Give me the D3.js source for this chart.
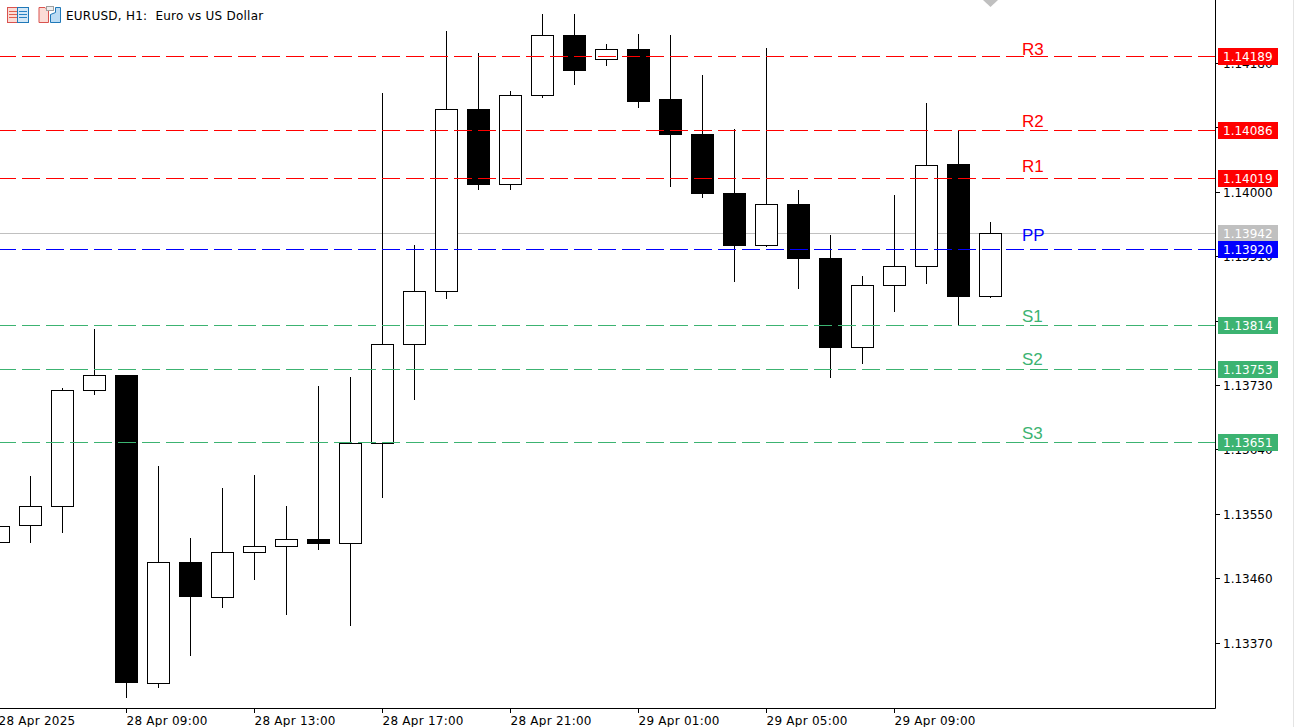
<!DOCTYPE html>
<html>
<head>
<meta charset="utf-8">
<title>EURUSD, H1</title>
<script src="https://cdnjs.cloudflare.com/ajax/libs/d3/7.8.5/d3.min.js"></script>
<style>
  html, body { margin: 0; padding: 0; background: #fff; overflow: hidden; }
  svg { display: block; }
  text { font-family: "DejaVu Sans", sans-serif; font-size: 12px; fill: #000; }
</style>
</head>
<body>
<div id="chart"></div>
<script>
const title = "EURUSD, H1:  Euro vs US Dollar";

const times = [
  "28 Apr 05:00", "28 Apr 06:00", "28 Apr 07:00", "28 Apr 08:00", "28 Apr 09:00", "28 Apr 10:00", "28 Apr 11:00",
  "28 Apr 12:00", "28 Apr 13:00", "28 Apr 14:00", "28 Apr 15:00", "28 Apr 16:00", "28 Apr 17:00", "28 Apr 18:00",
  "28 Apr 19:00", "28 Apr 20:00", "28 Apr 21:00", "28 Apr 22:00", "28 Apr 23:00", "29 Apr 00:00", "29 Apr 01:00",
  "29 Apr 02:00", "29 Apr 03:00", "29 Apr 04:00", "29 Apr 05:00", "29 Apr 06:00", "29 Apr 07:00", "29 Apr 08:00",
  "29 Apr 09:00", "29 Apr 10:00", "29 Apr 11:00", "29 Apr 12:00"
];
const opens = [
  1.13511, 1.13534, 1.13561, 1.13723, 1.13744, 1.13314, 1.13483, 1.13434, 1.13497, 1.13505, 1.13515,
  1.13509, 1.13649, 1.13787, 1.13861, 1.14116, 1.14011, 1.14135, 1.14219, 1.14185, 1.14199, 1.14130,
  1.14081, 1.13998, 1.13926, 1.13983, 1.13907, 1.13783, 1.13870, 1.13896, 1.14039, 1.13854
];
const highs = [
  1.13533, 1.13603, 1.13726, 1.13808, 1.13744, 1.13617, 1.13516, 1.13586, 1.13604, 1.13561, 1.13729,
  1.13741, 1.14138, 1.13926, 1.14225, 1.14194, 1.14141, 1.14248, 1.14248, 1.14206, 1.14220, 1.14219,
  1.14163, 1.14088, 1.14201, 1.14002, 1.13940, 1.13882, 1.13995, 1.14124, 1.14086, 1.13958
];
const lows = [
  1.13511, 1.13509, 1.13523, 1.13716, 1.13293, 1.13307, 1.13351, 1.13419, 1.13458, 1.13409, 1.13500,
  1.13393, 1.13572, 1.13709, 1.13850, 1.14002, 1.14002, 1.14131, 1.14149, 1.14176, 1.14117, 1.14007,
  1.13991, 1.13874, 1.13923, 1.13864, 1.13740, 1.13759, 1.13832, 1.13871, 1.13814, 1.13852
];
const closes = [
  1.13533, 1.13561, 1.13723, 1.13744, 1.13315, 1.13483, 1.13435, 1.13497, 1.13505, 1.13515, 1.13509,
  1.13649, 1.13787, 1.13861, 1.14116, 1.14011, 1.14135, 1.14219, 1.14170, 1.14199, 1.14127, 1.14081,
  1.13998, 1.13926, 1.13983, 1.13907, 1.13783, 1.13870, 1.13896, 1.14037, 1.13854, 1.13942
];

const levelNames = ["R3", "R2", "R1", "PP", "S1", "S2", "S3"];
const levelValues = [1.14189, 1.14086, 1.14019, 1.13920, 1.13814, 1.13753, 1.13651];
const levelTextPrices = [1.14191, 1.14090, 1.14028, 1.13931, 1.13818, 1.13758, 1.13654];
const bidPrice = 1.13942;

const priceTicks = [1.14180, 1.14090, 1.14000, 1.13910, 1.13820, 1.13730, 1.13640, 1.13550, 1.13460, 1.13370];
const timeTicks = ["28 Apr 05:00", "28 Apr 09:00", "28 Apr 13:00", "28 Apr 17:00", "28 Apr 21:00", "29 Apr 01:00", "29 Apr 05:00", "29 Apr 09:00"];
const firstTickLabel = "28 Apr 2025";
const nextBar = "29 Apr 13:00";

const width = 1294, height = 727, plotRight = 1215, plotBottom = 708;
const bodyHalf = 11;
const levelColor = n => n[0] === "R" ? "#ff0000" : n[0] === "P" ? "#0000ff" : "#3cb371";

const x = d3.scalePoint().domain([...times, nextBar]).range([-2, -2 + 32 * times.length]);
const y = d3.scaleLinear().domain([1.14, 1.1337]).rangeRound([191.75, 642.75]);

const svg = d3.select("#chart").append("svg").attr("width", width).attr("height", height);

svg.append("rect").attr("width", width).attr("height", height).attr("fill", "#fff");
svg.append("rect").attr("x", width - 1).attr("width", 1).attr("height", height).attr("fill", "#e4e4e4");

// bid line sits behind the candles
svg.append("line")
  .attr("x1", 0).attr("x2", plotRight)
  .attr("y1", y(bidPrice) + 0.5).attr("y2", y(bidPrice) + 0.5)
  .attr("stroke", "#c0c0c0");

// candles
const candles = svg.append("g").selectAll("g")
  .data(times.map((t, i) => ({ t, o: opens[i], h: highs[i], l: lows[i], c: closes[i] })))
  .enter().append("g");

candles.append("line")
  .attr("x1", d => x(d.t) + 0.5).attr("x2", d => x(d.t) + 0.5)
  .attr("y1", d => y(d.h)).attr("y2", d => y(d.l))
  .attr("stroke", "#000");

candles.append("rect")
  .attr("x", d => x(d.t) - bodyHalf + 0.5)
  .attr("y", d => y(Math.max(d.o, d.c)) + 0.5)
  .attr("width", bodyHalf * 2)
  .attr("height", d => y(Math.min(d.o, d.c)) - y(Math.max(d.o, d.c)))
  .attr("fill", d => d.c >= d.o ? "#fff" : "#000")
  .attr("stroke", "#000");

// pivot level lines
svg.append("g").selectAll("line")
  .data(levelNames)
  .enter().append("line")
  .attr("x1", -2).attr("x2", plotRight)
  .attr("y1", (d, i) => y(levelValues[i]) + 0.5)
  .attr("y2", (d, i) => y(levelValues[i]) + 0.5)
  .attr("stroke", d => levelColor(d))
  .attr("stroke-dasharray", "18,6");

svg.append("g").selectAll("text")
  .data(levelNames)
  .enter().append("text")
  .attr("x", x(nextBar))
  .attr("y", (d, i) => y(levelTextPrices[i]))
  .style("font-family", "'Liberation Sans', Arial, sans-serif")
  .style("font-size", "17px")
  .style("fill", d => levelColor(d))
  .text(d => d);

// frame
svg.append("path")
  .attr("d", d3.line()([[0, plotBottom + 0.5], [plotRight + 0.5, plotBottom + 0.5], [plotRight + 0.5, 0]]))
  .attr("fill", "none").attr("stroke", "#000");

// axes
const yAxis = d3.axisRight(y).tickValues(priceTicks).tickFormat(d3.format(".5f")).tickSize(4).tickPadding(3);
const yG = svg.append("g").attr("transform", `translate(${plotRight + 1},0)`).call(yAxis);
yG.select(".domain").remove();
yG.selectAll("text").attr("dy", "4.5").style("font-family", "'DejaVu Sans', sans-serif").style("font-size", "12px");
yG.selectAll("line").attr("stroke", "#000");

const xAxis = d3.axisBottom(x).tickValues(timeTicks).tickSize(4)
  .tickFormat(d => d === timeTicks[0] ? firstTickLabel : d);
const xG = svg.append("g").attr("transform", `translate(0,${plotBottom + 1})`).call(xAxis);
xG.select(".domain").remove();
xG.selectAll("text")
  .attr("text-anchor", "start").attr("x", 0).attr("y", 16).attr("dy", 0)
  .style("font-family", "'DejaVu Sans', sans-serif").style("font-size", "12px")
  .style("letter-spacing", "0.25px");

// price tags over the axis
const tagX = plotRight + 3, tagW = 60, tagH = 17;
const tags = [
  { v: bidPrice, color: "#c0c0c0" },
  ...levelNames.map((n, i) => ({ v: levelValues[i], color: levelColor(n) }))
];
const tag = svg.append("g").selectAll("g").data(tags).enter().append("g");
tag.append("rect")
  .attr("x", tagX).attr("y", d => y(d.v) - 8)
  .attr("width", tagW).attr("height", tagH)
  .attr("fill", d => d.color);
tag.append("text")
  .attr("x", tagX + 5).attr("y", d => y(d.v) + 5)
  .style("fill", "#fff")
  .text(d => d3.format(".5f")(d.v));

// last bar marker
svg.append("path")
  .attr("d", d3.line()([[x(times[times.length - 1]) - 7, 0], [x(times[times.length - 1]) + 8, 0], [x(times[times.length - 1]) + 0.5, 7]]))
  .attr("fill", "#c0c0c0");

// header icons
const icons = svg.append("g");
icons.append("rect").attr("x", 7.5).attr("y", 7.5).attr("width", 10).attr("height", 15).attr("fill", "#fbdcd6").attr("stroke", "#d9534f");
icons.append("rect").attr("x", 17.5).attr("y", 7.5).attr("width", 11).attr("height", 15).attr("fill", "#d4e8f7").attr("stroke", "#1f78b8");
[11.5, 14.5, 17.5].forEach(r => {
  icons.append("line").attr("x1", 9).attr("x2", 17).attr("y1", r).attr("y2", r).attr("stroke", "#e0604f");
  icons.append("line").attr("x1", 19).attr("x2", 27).attr("y1", r).attr("y2", r).attr("stroke", "#2a83c4");
});
icons.append("path").attr("d", "M39 7.5H45L48.5 11V22.5H39Z").attr("fill", "#fbdcd6").attr("stroke", "#d9534f");
icons.append("path").attr("d", "M50.5 14.5L55.5 12.5V7.5H60.5V22.5H50.5Z").attr("fill", "#bcdcf4").attr("stroke", "#1f78b8");
icons.append("rect").attr("x", 46.5).attr("y", 6.5).attr("width", 7).attr("height", 4).attr("fill", "#eee").attr("stroke", "#a0a0a0");

svg.append("text")
  .attr("x", 66).attr("y", 20)
  .style("white-space", "pre")
  .style("letter-spacing", "0.24px")
  .text(title);
</script>
</body>
</html>
